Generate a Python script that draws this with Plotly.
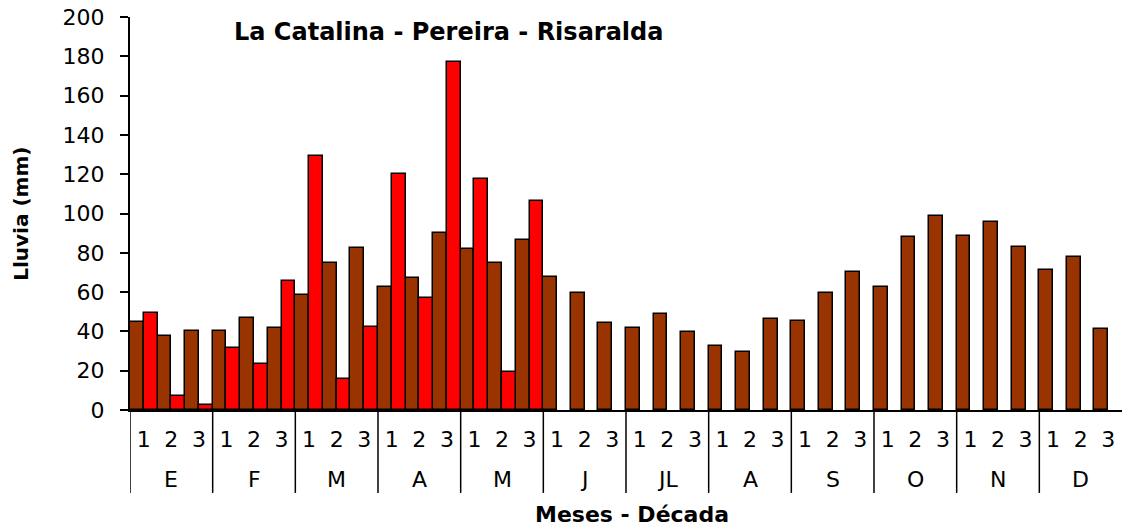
import plotly.graph_objects as go

# Meses y décadas del eje X
meses = ["E", "F", "M", "A", "M", "J", "JL", "A", "S", "O", "N", "D"]
decadas = ["1", "2", "3"]

# Lluvia por década (mm) - promedio histórico (café)
lluvia_promedio = [45.0, 37.8, 40.2, 40.2, 47.0, 41.6, 58.7, 74.9, 82.3,
                   62.8, 67.2, 90.1, 81.8, 74.7, 86.6, 67.9, 59.4, 44.1,
                   41.8, 48.7, 39.6, 32.6, 29.7, 46.3, 45.5, 59.4, 70.1,
                   62.6, 87.8, 98.5, 88.6, 95.6, 83.2, 71.0, 77.9, 41.1]

# Lluvia por década (mm) - año actual (rojo), solo hasta mayo
lluvia_anio = [49.6, 7.1, 2.5, 31.7, 23.4, 65.5, 129.5, 15.8, 42.4,
               120.2, 57.2, 177.1, 117.6, 19.5, 106.3]

y_ticks = [0, 20, 40, 60, 80, 100, 120, 140, 160, 180, 200]

FONT = "DejaVu Sans"
n = len(meses) * len(decadas)
x = list(range(n))
tick_text = decadas * len(meses)
rojo = lluvia_anio + [None] * (n - len(lluvia_anio))

fig = go.Figure()
fig.add_trace(go.Bar(
    x=x, y=lluvia_promedio, name="Promedio",
    marker=dict(color="#993300", line=dict(color="black", width=1.5))
))
fig.add_trace(go.Bar(
    x=x, y=rojo, name="Año",
    marker=dict(color="#FF0000", line=dict(color="black", width=1.5))
))

# etiquetas de meses y separadores
for i, mes in enumerate(meses):
    centro = i * 3 + 1
    fig.add_annotation(x=centro, y=-0.178, xref="x", yref="paper", text=mes,
                       showarrow=False, yanchor="middle",
                       font=dict(family=FONT, size=22, color="black"))
for i in range(len(meses)):
    borde = i * 3 - 0.5
    fig.add_shape(type="line", xref="x", yref="paper", x0=borde, x1=borde,
                  y0=0, y1=-0.211, line=dict(color="black", width=1.5))

fig.add_annotation(x=0.3206, y=0.962, xref="paper", yref="paper",
                   text="<b>La Catalina - Pereira - Risaralda</b>",
                   showarrow=False, xanchor="center", yanchor="middle",
                   font=dict(family=FONT, size=24, color="black"))
fig.add_annotation(x=-0.110, y=0.499, xref="paper", yref="paper",
                   text="<b>Lluvia (mm)</b>", textangle=-90,
                   showarrow=False, xanchor="center", yanchor="middle",
                   font=dict(family=FONT, size=20, color="black"))
fig.add_annotation(x=0.506, y=-0.267, xref="paper", yref="paper",
                   text="<b>Meses - Década</b>",
                   showarrow=False, xanchor="center", yanchor="middle",
                   font=dict(family=FONT, size=22, color="black"))

fig.update_xaxes(
    range=[-0.5, n - 0.5], tickmode="array", tickvals=x, ticktext=tick_text,
    showline=True, linecolor="black", linewidth=2, ticks="",
    showgrid=False, zeroline=False, ticklabelstandoff=9,
    tickfont=dict(family=FONT, size=22, color="black")
)
fig.update_yaxes(
    range=[0, 200], tickmode="array", tickvals=y_ticks,
    showline=True, linecolor="black", linewidth=2, ticks="outside",
    ticklen=8, tickwidth=1.5, tickcolor="black",
    showgrid=False, zeroline=False, ticklabelstandoff=11,
    tickfont=dict(family=FONT, size=22, color="black")
)
fig.update_layout(
    width=1122, height=531,
    margin=dict(l=130, r=0, t=17, b=121),
    barmode="group", bargap=0, bargroupgap=0,
    showlegend=False,
    plot_bgcolor="white", paper_bgcolor="white"
)

# quitar el margen del body para que la figura ocupe toda la ventana
fig.write_html("out.html",
               config={"displayModeBar": False},
               post_script="document.body.style.margin='0';"
                           "document.body.style.overflow='hidden';")
